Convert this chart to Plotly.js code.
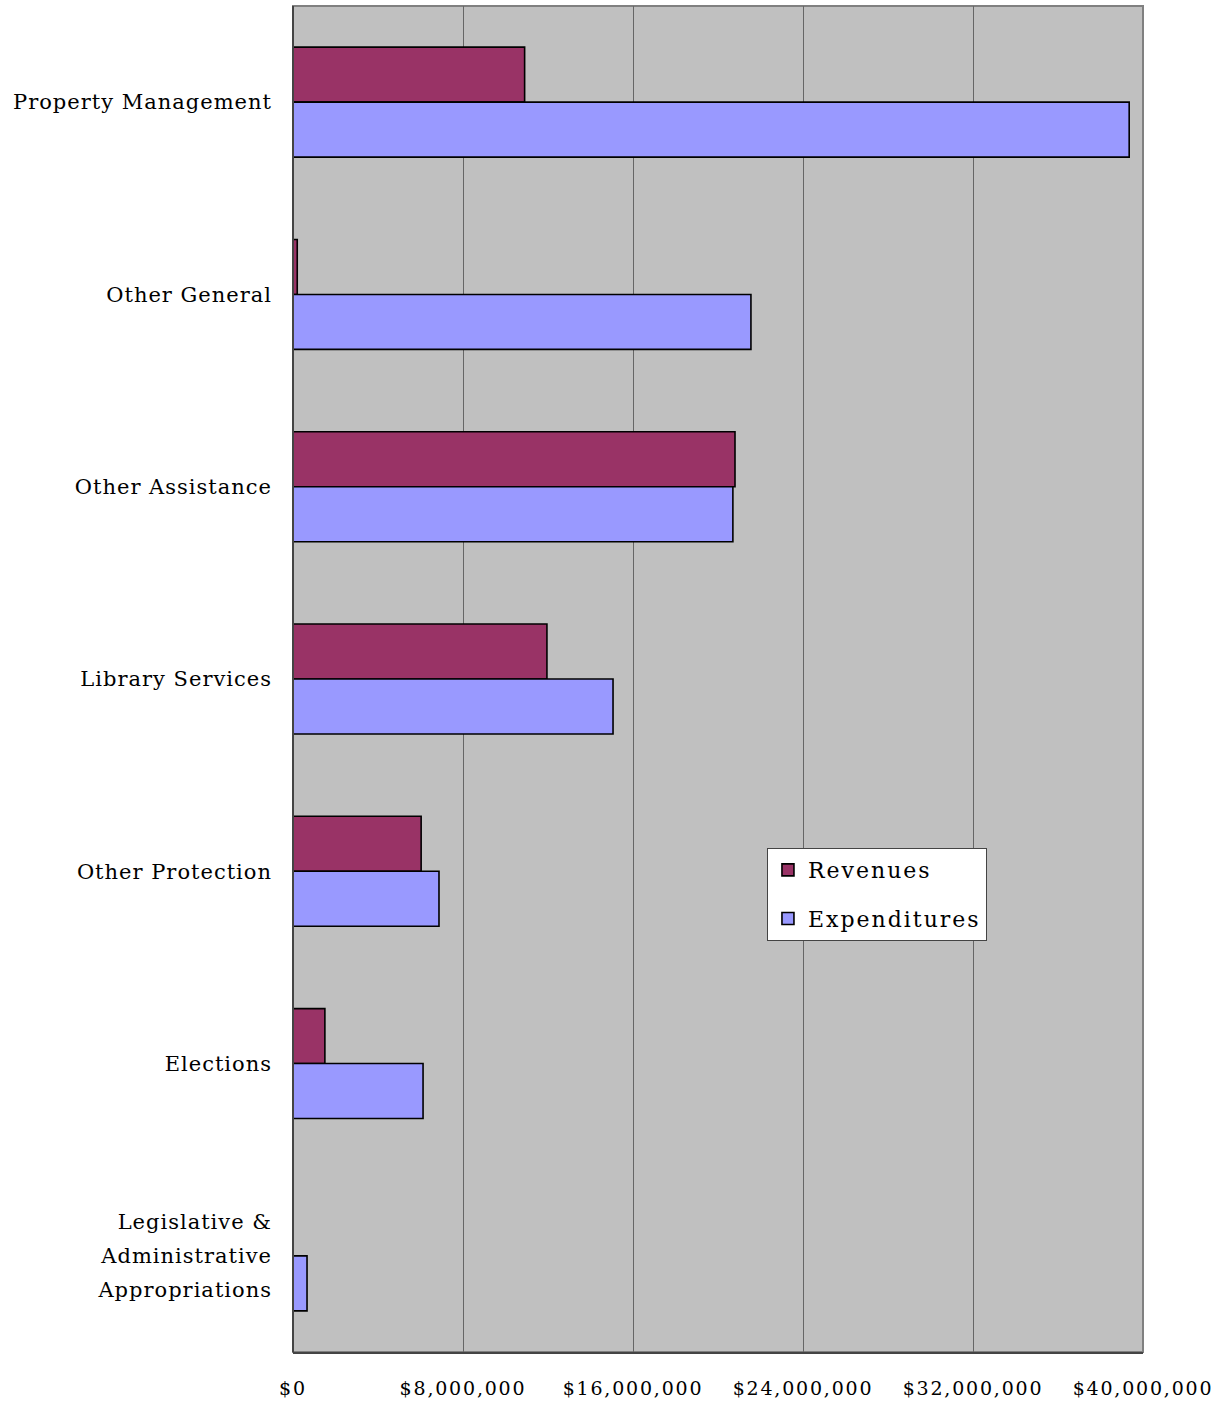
<!DOCTYPE html>
<html>
<head>
<meta charset="utf-8">
<script src="https://cdn.plot.ly/plotly-3.0.1.min.js"></script>
<style>
html,body{margin:0;padding:0;background:#fff;}
#chart{width:1230px;height:1403px;}
.ytick text{letter-spacing:1px;}
.xtick text{letter-spacing:1.8px;}
.legendtext{letter-spacing:2px;}
</style>
</head>
<body>
<div id="chart"></div>
<script>
const categories = ["Property Management","Other General","Other Assistance","Library Services","Other Protection","Elections","Legislative &<br>Administrative<br>Appropriations"];
const revenues = [10900000, 200000, 20800000, 11950000, 6030000, 1500000, 0];
const expenditures = [39350000, 21550000, 20700000, 15060000, 6870000, 6120000, 660000];
const tickValues = [0, 8000000, 16000000, 24000000, 32000000, 40000000];
const tickLabels = ["$0","$8,000,000","$16,000,000","$24,000,000","$32,000,000","$40,000,000"];

const fontFam = "DejaVu Serif, Liberation Serif, serif";
const traces = [
  {type:"bar", orientation:"h", name:"Revenues", y:categories, x:revenues, legendgroup:"r",
   marker:{color:"#993366", line:{color:"#000", width:1.6}}, hoverinfo:"x+y"},
  {type:"bar", orientation:"h", name:"Expenditures", y:categories, x:expenditures, legendgroup:"e",
   marker:{color:"#9999FF", line:{color:"#000", width:1.6}}, hoverinfo:"x+y"}
];
const layout = {
  width:1230, height:1403,
  margin:{l:293, r:87, t:6, b:51},
  paper_bgcolor:"#fff", plot_bgcolor:"#C0C0C0",
  barmode:"group", bargap:0.428, bargroupgap:0,
  font:{family:fontFam, size:21, color:"#000"},
  xaxis:{range:[0,40000000], tickvals:tickValues, ticktext:tickLabels,
    showgrid:true, gridcolor:"#666", gridwidth:1, zeroline:false,
    showline:true, linecolor:"#444", linewidth:2, ticks:"", ticklabelstandoff:18,
    tickfont:{family:fontFam, size:19}},
  yaxis:{type:"category", autorange:"reversed", showgrid:false, zeroline:false,
    showline:false, ticks:"", ticklabelstandoff:20, tickfont:{family:fontFam, size:21}},
  showlegend:true,
  legend:{x:0.5576, y:0.3744, xanchor:"left", yanchor:"top", bgcolor:"#fff",
    bordercolor:"#444", borderwidth:1, font:{family:fontFam, size:22},
    traceorder:"grouped", tracegroupgap:17, itemwidth:30},
  shapes:[{type:"rect", xref:"paper", yref:"paper", x0:0, x1:1, y0:0, y1:1,
    line:{color:"#808080", width:2}, layer:"below"},
    {type:"line", xref:"paper", yref:"paper", x0:0, x1:0, y0:0, y1:1,
    line:{color:"#444", width:2}, layer:"above"}]
};
Plotly.newPlot("chart", traces, layout, {displayModeBar:false, staticPlot:true}).then(function(){
  // widen line spacing of multi-line category labels
  document.querySelectorAll('.ytick text').forEach(function(t){
    const lines = t.querySelectorAll('tspan.line');
    if (lines.length > 1) {
      const n = lines.length, extra = 1.62 - 1.3;
      lines.forEach(function(l, i){
        const d = parseFloat(l.getAttribute('dy'));
        if (isNaN(d)) return;
        l.setAttribute('dy', (d + (i - (n-1)/2) * extra) + 'em');
      });
    }
  });
});
</script>
</body>
</html>
